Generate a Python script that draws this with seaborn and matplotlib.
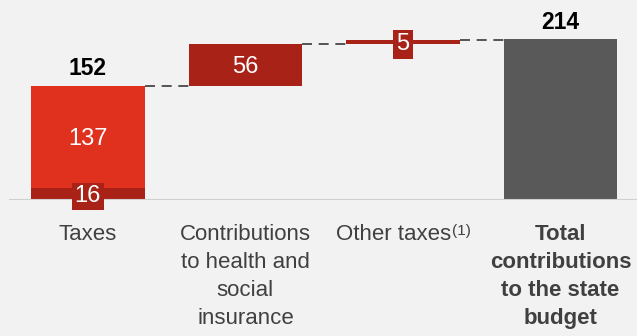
import matplotlib
matplotlib.use("Agg")
from matplotlib import pyplot as plt
from matplotlib.transforms import ScaledTranslation
import numpy as np
import seaborn as sns

# Data
categories = ["Taxes",
              "Contributions\nto health and\nsocial\ninsurance",
              "Other taxes",
              "Total\ncontributions\nto the state\nbudget"]
footnote = "(1)"   # superscript after "Other taxes"
steps = [152, 56, 5, 214]
is_total = [False, False, False, True]
taxes_split = [16, 137]   # dark part, bright part of the Taxes bar
top_labels = ["152", "", "", "214"]

bright_red = "#e0301e"
dark_red = "#a82218"
grey = "#595959"
bg = "#f2f2f2"

sns.set_style("white")
plt.rcParams["font.family"] = ["Liberation Sans", "DejaVu Sans"]

# waterfall bases
bases = []
run = 0
for s, t in zip(steps, is_total):
    if t:
        bases.append(0)
    else:
        bases.append(run)
        run += s
ends = [b + s for b, s in zip(bases, steps)]

fig = plt.figure(figsize=(6.37, 3.36), dpi=100, facecolor=bg)
ax = fig.add_axes([9 / 637, 136 / 336, 1 - 9 / 637, 200 / 336])
ax.set_facecolor(bg)

w = 0.72
sns.barplot(x=categories, y=steps, bottom=bases, width=w, ax=ax,
            color=bright_red, linewidth=0, saturation=1)
colors = [bright_red, dark_red, dark_red, grey]
for p, c in zip(ax.patches, colors):
    p.set_facecolor(c)

# dark bottom part of the Taxes bar
sns.barplot(x=[categories[0]], y=[taxes_split[0]], order=categories, width=w,
            ax=ax, color=dark_red, linewidth=0, saturation=1)

# connectors
for i in range(len(steps) - 1):
    ax.plot([i + w / 2, i + 1 - w / 2], [ends[i], ends[i]], color="#3a3a3a",
            linestyle=(0, (6, 4)), linewidth=1.2, zorder=1)

# baseline
ax.axhline(0, color="#d0d0d0", linewidth=1.5, zorder=3)

# value labels
fs = 17
ax.text(0, taxes_split[0] + (steps[0] - taxes_split[0]) / 2, str(taxes_split[1]),
        ha="center", va="center_baseline", color="white", fontsize=fs)
ax.text(0, taxes_split[0] / 2, str(taxes_split[0]), ha="center", va="center_baseline",
        color="white", fontsize=fs, zorder=4,
        bbox=dict(boxstyle="square,pad=0.12", fc=dark_red, ec="none"))
ax.text(1, bases[1] + steps[1] / 2, str(steps[1]), ha="center", va="center_baseline",
        color="white", fontsize=fs)
ax.text(2, bases[2] + steps[2] / 2, str(steps[2]), ha="center", va="center_baseline",
        color="white", fontsize=fs, zorder=4,
        bbox=dict(boxstyle="square,pad=0.15", fc=dark_red, ec="none"))
for i, lab in enumerate(top_labels):
    if lab:
        ax.annotate(lab, (i, ends[i]), xytext=(0, 4), textcoords="offset points",
                    ha="center", va="bottom", fontsize=16.5, fontweight="bold",
                    color="black")

ax.set_xlim(-0.5, 3.485)
ax.set_ylim(0, 266)
ax.set_yticks([])
ax.set_xlabel("")
ax.tick_params(axis="x", length=0, pad=17, labelsize=16, labelcolor="#404040")
sns.despine(ax=ax, left=True, bottom=True)

labels = ax.get_xticklabels()
for t in labels:
    t.set_verticalalignment("top")
    t.set_linespacing(1.45)
labels[3].set_fontweight("bold")

# measure the superscript, shift "Other taxes" left by half of it, then add it
fig.canvas.draw()
sup = fig.text(0, 0, footnote, fontsize=11)
sup_w = sup.get_window_extent().width
sup.remove()
labels[2].set_transform(labels[2].get_transform()
                        + ScaledTranslation(-sup_w / 2 / fig.dpi, 0, fig.dpi_scale_trans))
fig.canvas.draw()
bb = labels[2].get_window_extent()
fig.text(bb.x1 / fig.bbox.width + 0.001, bb.y1 / fig.bbox.height, footnote,
         fontsize=11, color="#404040", ha="left", va="top")

fig.savefig("out.png", dpi=100, facecolor=bg)
